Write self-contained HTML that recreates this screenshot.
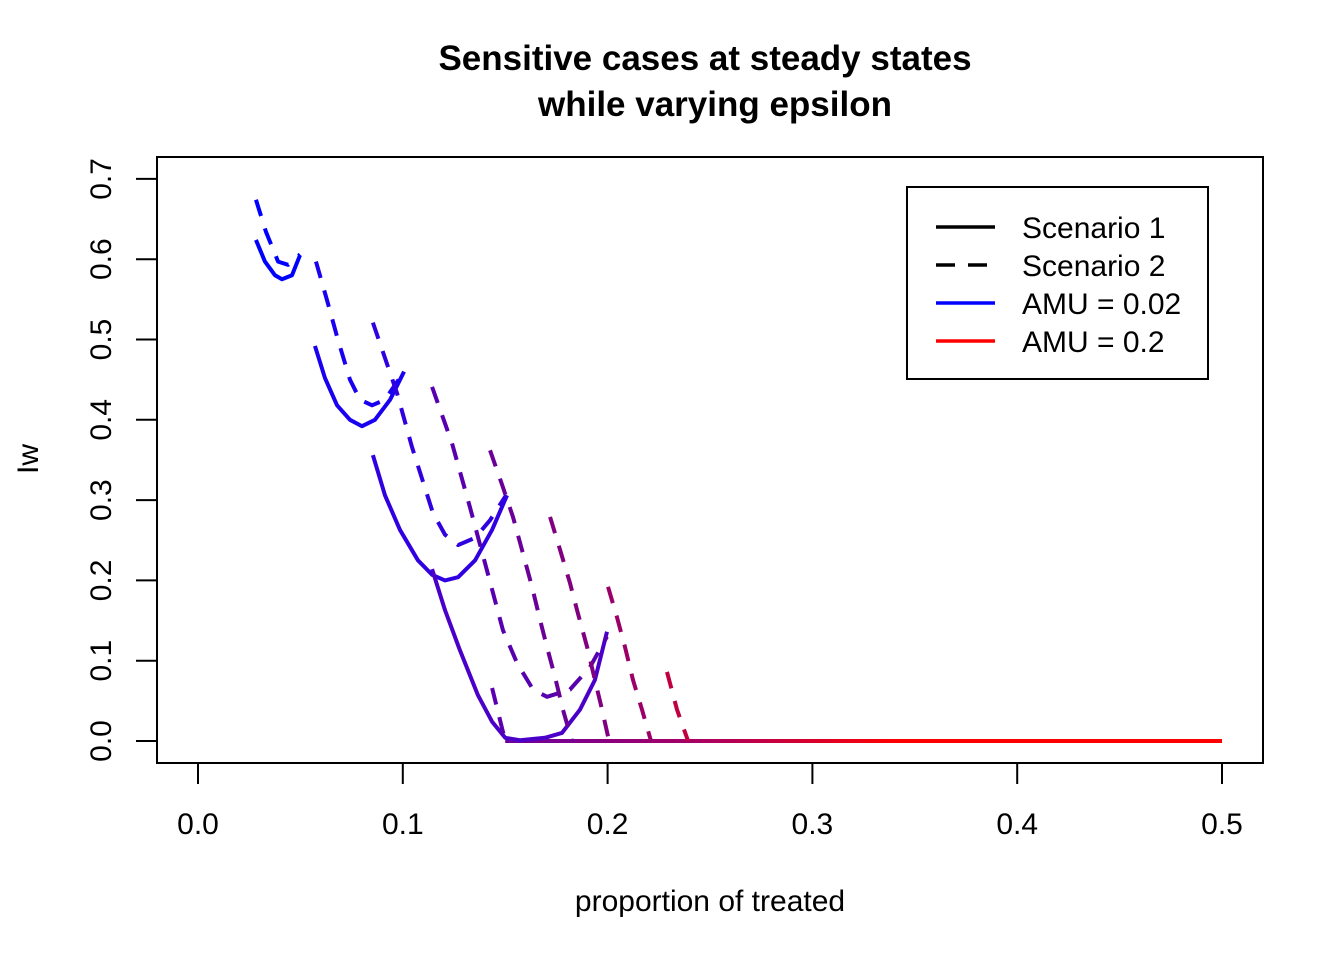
<!DOCTYPE html>
<html><head><meta charset="utf-8"><style>
body{margin:0;background:#fff}
svg text{font-family:"Liberation Sans",Arial,sans-serif;fill:#000}
</style></head><body>
<svg width="1344" height="960" viewBox="0 0 1344 960">
<defs><linearGradient id="bg" gradientUnits="userSpaceOnUse" x1="505" y1="0" x2="1222" y2="0"><stop offset="0" stop-color="#6a00a0"/><stop offset="0.3" stop-color="#b0005a"/><stop offset="0.55" stop-color="#ff0000"/><stop offset="1" stop-color="#ff0000"/></linearGradient></defs>
<text x="705" y="70" text-anchor="middle" font-size="35" font-weight="bold">Sensitive cases at steady states</text>
<text x="715" y="116" text-anchor="middle" font-size="35" font-weight="bold">while varying epsilon</text>
<rect x="157" y="157" width="1106" height="606" fill="none" stroke="#000" stroke-width="2"/>
<g id="xaxis"></g>
<g id="yaxis"></g>
<text x="710" y="911" text-anchor="middle" font-size="30">proportion of treated</text>
<text transform="translate(38,459) rotate(-90)" text-anchor="middle" font-size="30">Iw</text>
<g id="series"></g>
<g>
<rect x="907" y="187" width="301" height="192" fill="#fff" stroke="#000" stroke-width="2"/>
<line x1="936" y1="227" x2="995" y2="227" stroke="#000" stroke-width="3.5"/>
<text x="1022" y="238" font-size="30">Scenario 1</text>
<line x1="936" y1="265" x2="995" y2="265" stroke="#000" stroke-width="3.5" stroke-dasharray="19,13"/>
<text x="1022" y="276" font-size="30">Scenario 2</text>
<line x1="936" y1="303" x2="995" y2="303" stroke="#0000ff" stroke-width="3.5"/>
<text x="1022" y="314" font-size="30">AMU = 0.02</text>
<line x1="936" y1="341" x2="995" y2="341" stroke="#ff0000" stroke-width="3.5"/>
<text x="1022" y="352" font-size="30">AMU = 0.2</text>
</g>
</svg>
<script>
const xTicks=[0,0.1,0.2,0.3,0.4,0.5];
const xTickLabels=["0.0","0.1","0.2","0.3","0.4","0.5"];
const yTicks=[0,0.1,0.2,0.3,0.4,0.5,0.6,0.7];
const yTickLabels=["0.0","0.1","0.2","0.3","0.4","0.5","0.6","0.7"];
const seriesNames=["s1-a","s1-b","s1-c","s1-d","s2-a","s2-b","s2-c","s2-d","s2-e","s2-f","s2-g","s2-h","s2-i"];
const seriesDashed=[false,false,false,false,true,true,true,true,true,true,true,true,true];
const s1a_x=[.0283,.0327,.0376,.041,.0459,.0498];
const s1a_y=[.624,.597,.580,.575,.580,.605];
const s1b_x=[.0571,.062,.0679,.0742,.0801,.0864,.0938,.1006];
const s1b_y=[.492,.452,.418,.400,.392,.400,.425,.460];
const s1c_x=[.0854,.0913,.0986,.1074,.1143,.1206,.127,.1353,.1436,.1509];
const s1c_y=[.356,.306,.263,.225,.207,.200,.204,.225,.263,.306];
const s1d_x=[.1143,.1206,.1279,.1367,.1436,.15,.1572,.1694,.1777,.1865,.1938,.1997];
const s1d_y=[.214,.163,.113,.057,.024,.004,.001,.004,.010,.039,.076,.136];
const s2a_x=[.0283,.0332,.0391,.044,.0498];
const s2a_y=[.674,.634,.597,.593,.606];
const s2b_x=[.0576,.063,.0684,.0742,.0791,.085,.0913,.1006];
const s2b_y=[.597,.549,.499,.450,.425,.418,.425,.460];
const s2c_x=[.0854,.0972,.1045,.1147,.1206,.127,.1353,.1426,.1504];
const s2c_y=[.521,.433,.366,.284,.257,.244,.253,.275,.306];
const s2d_x=[.1143,.124,.1328,.1401,.1489,.1558,.1636,.1704,.1816,.1914,.1997];
const s2d_y=[.441,.371,.291,.222,.138,.097,.064,.055,.064,.092,.130];
const s2e_x=[.1426,.1489,.1538,.1582,.1631,.167,.1704,.1743,.1782,.1826];
const s2e_y=[.362,.316,.279,.238,.192,.151,.117,.080,.039,0];
const s2f_x=[.1719,.1768,.1816,.1855,.19,.1938,.1973,.2007];
const s2f_y=[.279,.238,.197,.159,.117,.076,.039,0];
const s2g_x=[.2002,.2046,.2085,.2124,.2168,.2212];
const s2g_y=[.192,.154,.117,.076,.039,0];
const s2h_x=[.229,.2339,.2393];
const s2h_y=[.086,.039,0];
const s2i_x=[.1436,.15];
const s2i_y=[.066,0];
const baseline_x=[0.15,0.5];
const baseline_y=[0,0];
const allX=[s1a_x,s1b_x,s1c_x,s1d_x,s2a_x,s2b_x,s2c_x,s2d_x,s2e_x,s2f_x,s2g_x,s2h_x,s2i_x];
const allY=[s1a_y,s1b_y,s1c_y,s1d_y,s2a_y,s2b_y,s2c_y,s2d_y,s2e_y,s2f_y,s2g_y,s2h_y,s2i_y];
const colors=["#0000ff","#1a00f0","#3000e0","#4a00c8","#0000ff","#1a00f0","#3000e0","#5800b0","#6a0098","#800080","#9a0068","#c00040","#5a00b0"];
const NS="http://www.w3.org/2000/svg";
function sx(v){return 198+v*2048;}
function sy(v){return 741-v*803;}
const xa=document.getElementById('xaxis');
const ya=document.getElementById('yaxis');
function mk(t,a,p){const e=document.createElementNS(NS,t);for(const k in a)e.setAttribute(k,a[k]);p.appendChild(e);return e;}
const xl=mk('line',{x1:sx(xTicks[0]),x2:sx(xTicks[xTicks.length-1]),y1:763,y2:763,stroke:'#000','stroke-width':2},xa);


xTicks.forEach((v,i)=>{
 const t=mk('line',{x1:sx(v),x2:sx(v),y1:763,y2:784,stroke:'#000','stroke-width':2},xa);
 
 
 const l=mk('text',{x:sx(v),y:834,'text-anchor':'middle','font-size':30},xa);
 l.textContent=xTickLabels[i];
 
 
});
const yl=mk('line',{x1:157,x2:157,y1:sy(yTicks[0]),y2:sy(yTicks[yTicks.length-1]),stroke:'#000','stroke-width':2},ya);


yTicks.forEach((v,i)=>{
 const t=mk('line',{x1:136,x2:157,y1:sy(v),y2:sy(v),stroke:'#000','stroke-width':2},ya);
 
 
 const l=mk('text',{transform:`translate(111,${sy(v)}) rotate(-90)`,'text-anchor':'middle','font-size':30},ya);
 l.textContent=yTickLabels[i];
 
 
});
const sg=document.getElementById('series');
const bl=mk('line',{x1:sx(baseline_x[0]),x2:sx(baseline_x[1]),y1:sy(baseline_y[0]),y2:sy(baseline_y[1]),stroke:'url(#bg)','stroke-width':4},sg);


allX.forEach((xs,i)=>{
 const pts=xs.map((x,j)=>sx(x)+','+sy(allY[i][j])).join(' ');
 const a={points:pts,fill:'none',stroke:colors[i],'stroke-width':4,'stroke-linejoin':'round'};
 if(seriesDashed[i])a['stroke-dasharray']='17,13';
 const p=mk('polyline',a,sg);
 
 
});
</script>
</body></html>
